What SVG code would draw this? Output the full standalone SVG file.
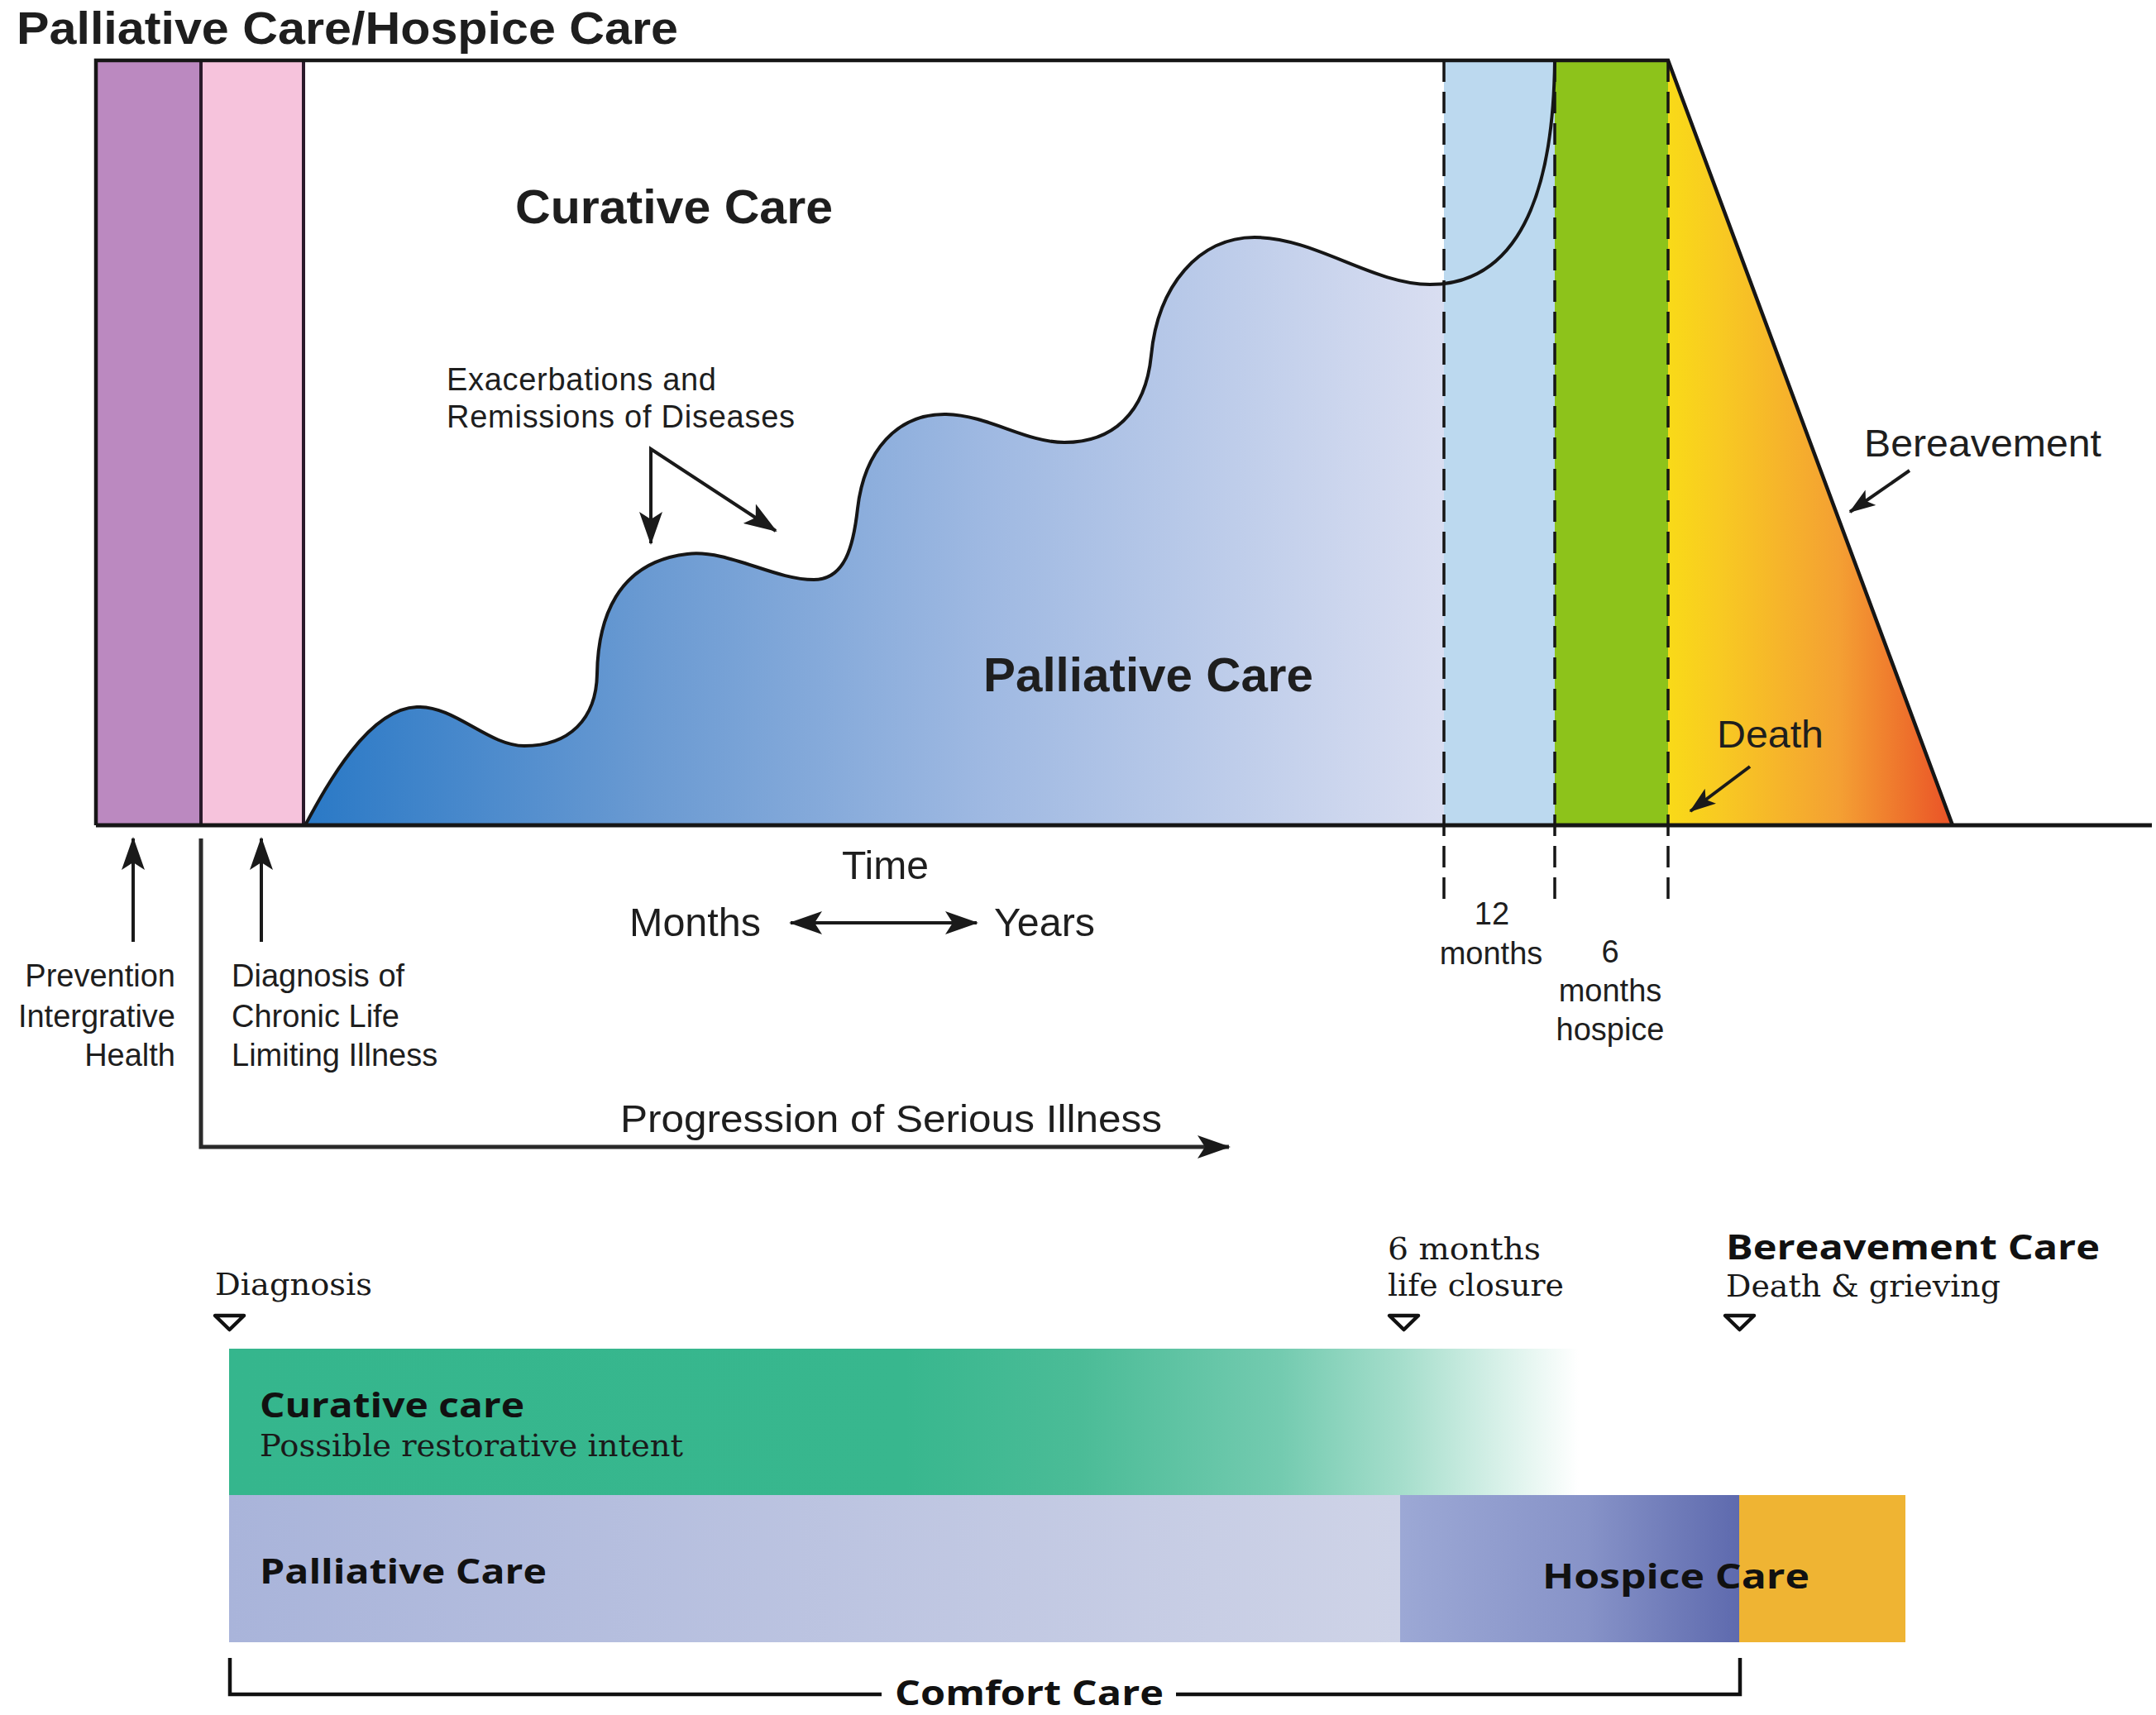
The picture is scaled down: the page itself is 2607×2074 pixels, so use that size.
<svg xmlns="http://www.w3.org/2000/svg" width="2607" height="2074" viewBox="0 0 2607 2074">
  <style>
    .sans { font-family: "Liberation Sans", Arial, Helvetica, sans-serif; fill: #1e1e1e; }
    .bold { font-weight: bold; }
    .lbl { font-size: 38px; }
    .ser { font-family: "DejaVu Serif", "Liberation Serif", serif; fill: #1a1a1a; font-size: 37px; }
    .bs { font-family: "Open Sans", "Noto Sans", sans-serif; font-weight: 700; fill: #111; font-size: 42px; }
    .frame { fill: none; stroke: #161616; stroke-width: 4.5; }
    .divider { stroke: #2b1a2b; stroke-width: 4; }
    .dash { stroke: #151515; stroke-width: 3.5; stroke-dasharray: 26 12; fill: none; }
    .arrow { stroke: #1a1a1a; stroke-width: 4; fill: none; }
    .tri { fill: #fff; stroke: #111; stroke-width: 4.5; stroke-linejoin: round; }
    .bracket { fill: none; stroke: #111; stroke-width: 4.5; }
  </style>
  <defs>
    <marker id="ah" markerUnits="userSpaceOnUse" viewBox="0 0 40 28" markerWidth="40" markerHeight="28" refX="38" refY="14" orient="auto-start-reverse">
      <path d="M0,0 L40,14 L0,28 L9,14 Z" fill="#1a1a1a"/>
    </marker>
    <marker id="ahs" markerUnits="userSpaceOnUse" viewBox="0 0 40 28" markerWidth="32" markerHeight="23" refX="38" refY="14" orient="auto">
      <path d="M0,0 L40,14 L0,28 L9,14 Z" fill="#1a1a1a"/>
    </marker>
    <linearGradient id="gBlue" gradientUnits="userSpaceOnUse" x1="369" y1="0" x2="1746" y2="0">
      <stop offset="0" stop-color="#2a79c6"/>
      <stop offset="0.3" stop-color="#6a9ad2"/>
      <stop offset="0.6" stop-color="#9fb9e2"/>
      <stop offset="1" stop-color="#d9def1"/>
    </linearGradient>
    <linearGradient id="gFire" gradientUnits="userSpaceOnUse" x1="2017" y1="0" x2="2361" y2="0">
      <stop offset="0" stop-color="#f9da18"/>
      <stop offset="0.18" stop-color="#f8ca22"/>
      <stop offset="0.6" stop-color="#f4a033"/>
      <stop offset="1" stop-color="#ea5227"/>
    </linearGradient>
    <linearGradient id="gCure" gradientUnits="userSpaceOnUse" x1="277" y1="0" x2="1909" y2="0">
      <stop offset="0" stop-color="#35b68d"/>
      <stop offset="0.5" stop-color="#38b78e"/>
      <stop offset="0.63" stop-color="#4bbc97"/>
      <stop offset="0.78" stop-color="#74cbb0"/>
      <stop offset="0.87" stop-color="#a6decc"/>
      <stop offset="0.935" stop-color="#d3efe6"/>
      <stop offset="1" stop-color="#ffffff"/>
    </linearGradient>
    <linearGradient id="gPall" gradientUnits="userSpaceOnUse" x1="277" y1="0" x2="1693" y2="0">
      <stop offset="0" stop-color="#a9b4da"/>
      <stop offset="1" stop-color="#ced3e7"/>
    </linearGradient>
    <linearGradient id="gHosp" gradientUnits="userSpaceOnUse" x1="1693" y1="0" x2="2103" y2="0">
      <stop offset="0" stop-color="#9ca8d5"/>
      <stop offset="0.55" stop-color="#8793c8"/>
      <stop offset="1" stop-color="#5e6aae"/>
    </linearGradient>
  </defs>

  <rect width="2607" height="2074" fill="#fff"/>

  <!-- upper chart: title -->
  <text id="title" class="sans bold" x="20" y="53" font-size="56" textLength="800" lengthAdjust="spacingAndGlyphs">Palliative Care/Hospice Care</text>

  <!-- upper chart: coloured bands -->
  <g id="band-prevention"><rect x="116" y="73" width="127" height="925" fill="#bb89c0"/></g>
  <g id="band-diagnosis"><rect x="243" y="73" width="124" height="925" fill="#f6c3dc"/></g>
  <g id="area-palliative">
    <path d="M369,998 C395,950 445,857 504,855 C550,853 590,902 634,902 C688,902 721,870 722,815 C723,750 745,680 831,670 C880,664 935,701 984,701 C1022,701 1032,660 1037,615 C1045,545 1085,500 1144,501 C1195,502 1240,535 1287,535 C1345,535 1385,500 1392,430 C1400,345 1450,287 1517,287 C1590,287 1660,344 1729,344 C1810,344 1878,280 1880,73 L1880,998 Z" fill="url(#gBlue)"/>
  </g>
  <g id="band-12months"><rect x="1746" y="73" width="134" height="925" fill="#bcd9ef"/></g>
  <g id="band-6months"><rect x="1880" y="73" width="137" height="925" fill="#8dc31b"/></g>
  <g id="area-bereavement"><path d="M2017,73 L2361,998 L2017,998 Z" fill="url(#gFire)"/></g>

  <!-- upper chart: outline, curve and timeline -->
  <g id="connectors">
    <line class="divider" x1="243" y1="73" x2="243" y2="998"/>
    <line class="divider" x1="367" y1="73" x2="367" y2="998"/>
    <path class="dash" d="M1746,73 V1092 M1880,73 V1092 M2017,73 V1092"/>
    <path class="frame" d="M116,998 V73 H2017 L2361,998"/>
    <path fill="none" stroke="#161616" stroke-width="4" d="M369,998 C395,950 445,857 504,855 C550,853 590,902 634,902 C688,902 721,870 722,815 C723,750 745,680 831,670 C880,664 935,701 984,701 C1022,701 1032,660 1037,615 C1045,545 1085,500 1144,501 C1195,502 1240,535 1287,535 C1345,535 1385,500 1392,430 C1400,345 1450,287 1517,287 C1590,287 1660,344 1729,344 C1810,344 1878,280 1880,73"/>
    <line stroke="#161616" stroke-width="5" x1="116" y1="998" x2="2602" y2="998"/>

    <path class="arrow" d="M787,657 L787,543 L938,642" marker-start="url(#ah)" marker-end="url(#ah)"/>
    <line class="arrow" x1="2309" y1="569" x2="2237" y2="619" marker-end="url(#ahs)"/>
    <line class="arrow" x1="2116" y1="927" x2="2044" y2="981" marker-end="url(#ahs)"/>
    <line class="arrow" x1="161" y1="1139" x2="161" y2="1014" marker-end="url(#ah)"/>
    <line class="arrow" x1="316" y1="1139" x2="316" y2="1014" marker-end="url(#ah)"/>
    <line class="arrow" x1="956" y1="1116" x2="1181" y2="1116" marker-start="url(#ah)" marker-end="url(#ah)"/>
    <path stroke="#2a2a2a" stroke-width="5" fill="none" d="M243,1014 V1387 H1486" marker-end="url(#ah)"/>
  </g>

  <!-- upper chart: labels -->
  <g id="label-curative"><text class="sans bold" x="623" y="270" font-size="58" textLength="384" lengthAdjust="spacingAndGlyphs">Curative Care</text></g>
  <g id="label-palliative"><text class="sans bold" x="1189" y="836" font-size="57" textLength="399" lengthAdjust="spacingAndGlyphs">Palliative Care</text></g>
  <g id="label-exacerbations">
    <text class="sans lbl" x="540" y="472" textLength="326">Exacerbations and</text>
    <text class="sans lbl" x="540" y="517" textLength="421">Remissions of Diseases</text>
  </g>
  <g id="label-bereavement"><text class="sans" x="2254" y="552" font-size="46" textLength="287" lengthAdjust="spacingAndGlyphs">Bereavement</text></g>
  <g id="label-death"><text class="sans" x="2076" y="904" font-size="46" textLength="129" lengthAdjust="spacingAndGlyphs">Death</text></g>
  <g id="label-time">
    <text class="sans" x="1018" y="1063" font-size="48" textLength="105" lengthAdjust="spacingAndGlyphs">Time</text>
    <text class="sans" x="761" y="1132" font-size="48" textLength="159" lengthAdjust="spacingAndGlyphs">Months</text>
    <text class="sans" x="1202" y="1132" font-size="48" textLength="122" lengthAdjust="spacingAndGlyphs">Years</text>
  </g>
  <g id="label-prevention" text-anchor="end">
    <text class="sans lbl" x="212" y="1193">Prevention</text>
    <text class="sans lbl" x="212" y="1242">Intergrative</text>
    <text class="sans lbl" x="212" y="1289">Health</text>
  </g>
  <g id="label-diagnosis">
    <text class="sans lbl" x="280" y="1193">Diagnosis of</text>
    <text class="sans lbl" x="280" y="1242">Chronic Life</text>
    <text class="sans lbl" x="280" y="1289">Limiting Illness</text>
  </g>
  <g id="label-12months" text-anchor="middle">
    <text class="sans lbl" x="1804" y="1118">12</text>
    <text class="sans lbl" x="1803" y="1166">months</text>
  </g>
  <g id="label-6months" text-anchor="middle">
    <text class="sans lbl" x="1947" y="1164">6</text>
    <text class="sans lbl" x="1947" y="1211">months</text>
    <text class="sans lbl" x="1947" y="1258">hospice</text>
  </g>
  <g id="label-progression"><text class="sans" x="750" y="1369" font-size="47" textLength="655" lengthAdjust="spacingAndGlyphs">Progression of Serious Illness</text></g>

  <!-- lower chart: milestones -->
  <g id="milestone-diagnosis">
    <text class="ser" x="260" y="1566" textLength="190" lengthAdjust="spacingAndGlyphs">Diagnosis</text>
    <path class="tri" d="M260,1591 H295 L277.5,1608 Z"/>
  </g>
  <g id="milestone-6months">
    <text class="ser" x="1678" y="1523" textLength="185" lengthAdjust="spacingAndGlyphs">6 months</text>
    <text class="ser" x="1678" y="1567" textLength="213" lengthAdjust="spacingAndGlyphs">life closure</text>
    <path class="tri" d="M1680,1591 H1715 L1697.5,1608 Z"/>
  </g>
  <g id="milestone-bereavement">
    <text class="bs" x="2087" y="1523" textLength="452" lengthAdjust="spacingAndGlyphs">Bereavement Care</text>
    <text class="ser" x="2087" y="1568" textLength="332" lengthAdjust="spacingAndGlyphs">Death &amp; grieving</text>
    <path class="tri" d="M2086,1591 H2121 L2103.5,1608 Z"/>
  </g>

  <!-- lower chart: care bars -->
  <g id="bar-curative">
    <rect x="277" y="1631" width="1632" height="177" fill="url(#gCure)"/>
    <text class="bs" x="314" y="1714" textLength="320" lengthAdjust="spacingAndGlyphs">Curative care</text>
    <text class="ser" x="314" y="1761" textLength="512" lengthAdjust="spacingAndGlyphs">Possible restorative intent</text>
  </g>
  <g id="bar-palliative">
    <rect x="277" y="1808" width="1416" height="178" fill="url(#gPall)"/>
    <text class="bs" x="314" y="1915" textLength="347" lengthAdjust="spacingAndGlyphs">Palliative Care</text>
  </g>
  <g id="bar-hospice">
    <rect x="1693" y="1808" width="410" height="178" fill="url(#gHosp)"/>
  </g>
  <g id="bar-bereavement">
    <rect x="2103" y="1808" width="201" height="178" fill="#efb433"/>
  </g>
  <text class="bs" x="1865" y="1921" textLength="323" lengthAdjust="spacingAndGlyphs">Hospice Care</text>

  <!-- lower chart: comfort care bracket -->
  <g id="bracket-comfort">
    <path class="bracket" d="M278,2005 V2049 H1066 M1422,2049 H2104 V2005"/>
    <text class="bs" x="1082" y="2062" textLength="325" lengthAdjust="spacingAndGlyphs">Comfort Care</text>
  </g>
</svg>
